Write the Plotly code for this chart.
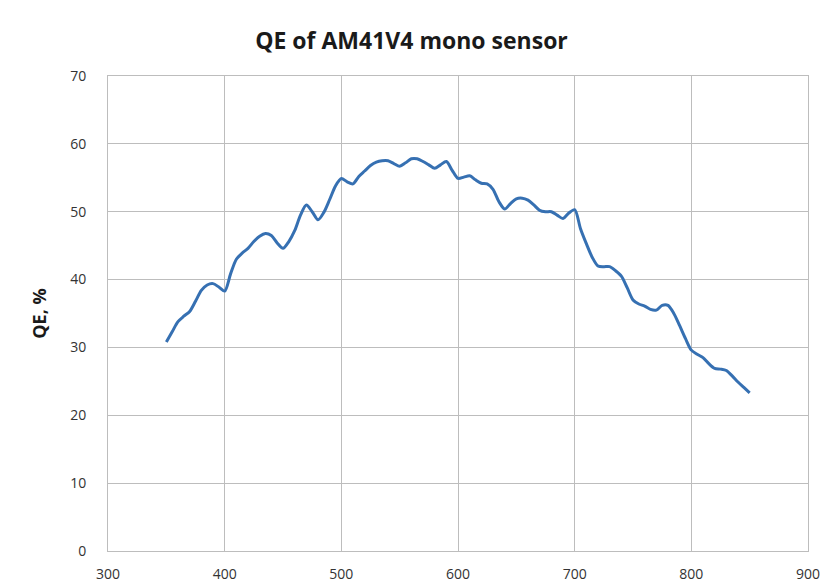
import plotly.graph_objects as go

wavelength = list(range(350, 855, 5))
qe = [30.8, 32.3, 33.8, 34.6, 35.3, 36.8, 38.4, 39.2, 39.4, 38.9,
      38.3, 40.8, 43.0, 43.9, 44.6, 45.6, 46.4, 46.8, 46.5, 45.4,
      44.6, 45.6, 47.2, 49.5, 51.0, 50.0, 48.8, 49.9, 51.8, 53.8,
      54.9, 54.4, 54.1, 55.2, 56.0, 56.8, 57.3, 57.5, 57.5, 57.1,
      56.7, 57.2, 57.8, 57.8, 57.4, 56.9, 56.4, 56.9, 57.4, 56.1,
      54.9, 55.1, 55.3, 54.7, 54.2, 54.1, 53.3, 51.5, 50.4, 51.2,
      51.9, 52.0, 51.7, 51.0, 50.2, 50.0, 50.0, 49.5, 49.0, 49.8,
      50.3, 47.5, 45.3, 43.3, 42.0, 41.9, 41.9, 41.3, 40.5, 38.8,
      37.0, 36.4, 36.1, 35.6, 35.5, 36.2, 36.2, 35.0, 33.2, 31.3,
      29.6, 29.0, 28.5, 27.6, 26.9, 26.8, 26.6, 25.8, 24.9, 24.1,
      23.3]

x_ticks = [300, 400, 500, 600, 700, 800, 900]
y_ticks = [0, 10, 20, 30, 40, 50, 60, 70]

fig = go.Figure()
fig.add_trace(go.Scatter(
    x=wavelength, y=qe, mode="lines",
    line=dict(color="#3670B2", width=3, shape="spline", smoothing=0.8),
    showlegend=False, hoverinfo="x+y",
))

font_family = "Open Sans, Liberation Sans, sans-serif"
grid = "#BDBDBD"
fig.update_layout(
    width=823, height=587,
    margin=dict(l=108, r=15, t=76, b=36, autoexpand=False),
    paper_bgcolor="white", plot_bgcolor="white",
    font=dict(family=font_family, size=14, color="#333333"),
    title=dict(text="<b>QE of AM41V4 mono sensor</b>", x=0.5, xanchor="center",
               y=0.93, yanchor="middle",
               font=dict(size=23, color="#1a1a1a", family=font_family)),
    xaxis=dict(range=[300, 900], tickvals=x_ticks, showgrid=True, gridcolor=grid,
               gridwidth=1, showline=True, linecolor=grid, mirror=True, zeroline=False,
               ticks="outside", ticklen=10, tickcolor="rgba(0,0,0,0)",
               tickfont=dict(size=14), automargin=False),
    yaxis=dict(range=[0, 70], tickvals=y_ticks, showgrid=True, gridcolor=grid,
               gridwidth=1, showline=True, linecolor=grid, mirror=True, zeroline=False,
               ticks="outside", ticklen=18, tickcolor="rgba(0,0,0,0)",
               tickfont=dict(size=14), automargin=False,
               title=dict(text="<b>QE, %</b>", standoff=18,
                          font=dict(size=18, color="#1a1a1a"))),
)

fig.write_html("out.html", config={"displayModeBar": False})
with open("out.html", "r", encoding="utf-8") as f:
    html = f.read()
html = html.replace("<head>", "<head><style>html,body{margin:0;padding:0;overflow:hidden;}</style>", 1)
with open("out.html", "w", encoding="utf-8") as f:
    f.write(html)
